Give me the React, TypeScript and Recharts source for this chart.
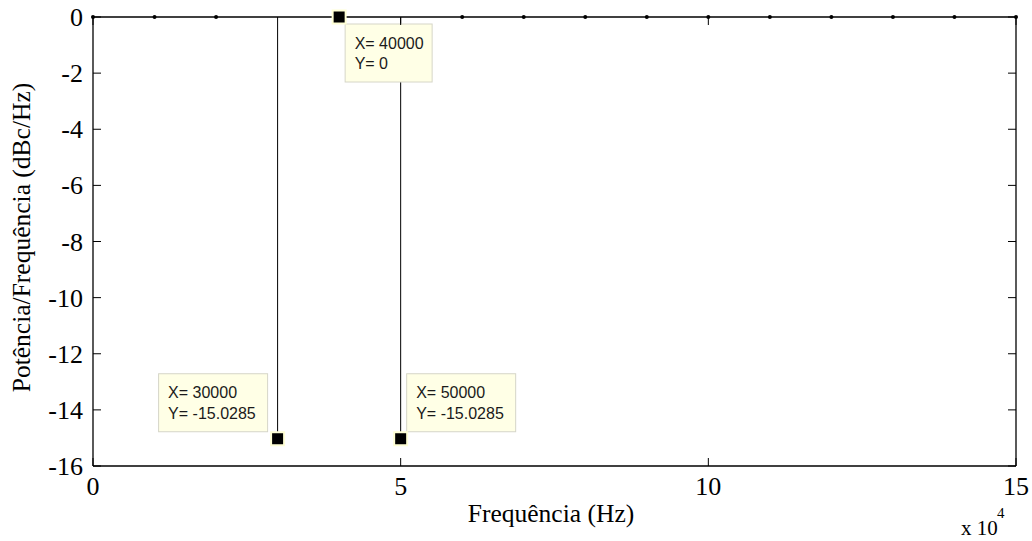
import React from 'react';
import {
  ComposedChart,
  XAxis,
  YAxis,
  Scatter,
  ReferenceLine,
  Label,
} from 'recharts';

// spectrum samples (Hz, dBc/Hz)
const FREQS = [
  0, 10000, 20000, 30000, 40000, 50000, 60000, 70000,
  80000, 90000, 100000, 110000, 120000, 130000, 140000, 150000,
];
const POWER = [0, 0, 0, -15.0285, 0, -15.0285, 0, 0, 0, 0, 0, 0, 0, 0, 0, 0];

const X_TICKS = [0, 50000, 100000, 150000];
const Y_TICKS = [-16, -14, -12, -10, -8, -6, -4, -2, 0];

// points with a data tip
const TIP_FREQS = [30000, 40000, 50000];

// where each data tip box sits relative to its point
const TIP_BOX: Record<number, { dx: number; dy: number; w: number; h: number }> = {
  30000: { dx: -119, dy: -65, w: 109, h: 58 },
  40000: { dx: 6, dy: 7, w: 87, h: 58 },
  50000: { dx: 6, dy: -65, w: 109, h: 58 },
};

const SERIF = "'Liberation Serif', 'Times New Roman', Times, serif";
const SANS = "'Liberation Sans', Arial, Helvetica, sans-serif";

const data = FREQS.map((f, i) => ({ f, p: POWER[i] }));
const tipData = TIP_FREQS.map((f) => ({ f, p: POWER[FREQS.indexOf(f)] }));
const stems = data.filter((d) => d.p !== 0);

const serifText = (size: number) => ({ fontFamily: SERIF, fontSize: size, fill: '#000' });

const renderXTick = ({ x, y, payload }: any) => (
  <g>
    <line x1={x} x2={x} y1={y} y2={y - 8} stroke="#000" />
    <text x={x} y={y + 29} textAnchor="middle" style={serifText(26)}>
      {payload.value / 10000}
    </text>
  </g>
);

const renderYTick = ({ x, y, payload }: any) => (
  <g>
    <line x1={x} x2={x + 8} y1={y} y2={y} stroke="#000" />
    <text x={x - 10} y={y + 9} textAnchor="end" style={serifText(26)}>
      {payload.value}
    </text>
  </g>
);

const renderTopTick = ({ x, y }: any) => (
  <line x1={x} x2={x} y1={y} y2={y + 8} stroke="#000" />
);
const renderRightTick = ({ x, y }: any) => (
  <line x1={x} x2={x - 8} y1={y} y2={y} stroke="#000" />
);

const XLabel = ({ viewBox }: any) => {
  const { x, y, width } = viewBox;
  return (
    <g>
      <text x={x + width / 2 - 3.5} y={y + 56} textAnchor="middle" style={serifText(25.5)}>
        Frequência (Hz)
      </text>
      <text x={x + width - 55} y={y + 69} style={serifText(21)}>
        x 10
      </text>
      <text x={x + width - 19} y={y + 52} style={serifText(15)}>
        4
      </text>
    </g>
  );
};

const YLabel = ({ viewBox }: any) => {
  const { x, y, height } = viewBox;
  const cx = x + 30;
  const cy = y + height / 2 - 4;
  return (
    <text
      x={cx}
      y={cy}
      transform={`rotate(-90 ${cx} ${cy})`}
      textAnchor="middle"
      style={serifText(25.5)}
    >
      Potência/Frequência (dBc/Hz)
    </text>
  );
};

const StemDot = (props: any) => <circle cx={props.cx} cy={props.cy} r={2} fill="#000" />;

const DataTip = (props: any) => {
  const { cx, cy, payload } = props;
  const b = TIP_BOX[payload.f];
  const bx = cx + b.dx;
  const by = cy + b.dy;
  const tipText = { fontFamily: SANS, fontSize: 16, fill: '#1a1a1a' };
  return (
    <g>
      <rect x={bx} y={by} width={b.w} height={b.h} fill="#ffffe6" stroke="#d6d6c8" strokeWidth={1} />
      <text x={bx + 9.5} y={by + 24.5} style={tipText}>
        X= {payload.f}
      </text>
      <text x={bx + 9.5} y={by + 45} style={tipText}>
        Y= {payload.p}
      </text>
      <rect x={cx - 6.5} y={cy - 6.5} width={13} height={13} fill="#000" stroke="#ffffd6" strokeWidth={2} />
    </g>
  );
};

export default function App() {
  return (
    <div style={{ position: 'absolute', left: 0, top: 0, background: '#fff' }}>
      <ComposedChart
        width={1032}
        height={541}
        data={data}
        margin={{ top: 16, right: 15, bottom: 0, left: 0 }}
      >
        <XAxis
          dataKey="f"
          type="number"
          domain={[0, 150000]}
          ticks={X_TICKS}
          interval={0}
          height={75}
          tickSize={0}
          tickMargin={0}
          tickLine={false}
          tick={renderXTick}
          axisLine={{ stroke: '#000', strokeWidth: 1.3 }}
        >
          <Label content={XLabel} />
        </XAxis>
        <XAxis
          xAxisId="top"
          orientation="top"
          dataKey="f"
          type="number"
          domain={[0, 150000]}
          ticks={X_TICKS}
          interval={0}
          height={1}
          tickSize={0}
          tickMargin={0}
          tickLine={false}
          tick={renderTopTick}
          axisLine={{ stroke: '#000', strokeWidth: 1.3 }}
        />
        <YAxis
          dataKey="p"
          type="number"
          domain={[-16, 0]}
          ticks={Y_TICKS}
          interval={0}
          width={93}
          tickSize={0}
          tickMargin={0}
          tickLine={false}
          tick={renderYTick}
          axisLine={{ stroke: '#000', strokeWidth: 1.3 }}
        >
          <Label content={YLabel} />
        </YAxis>
        <YAxis
          yAxisId="r"
          orientation="right"
          dataKey="p"
          type="number"
          domain={[-16, 0]}
          ticks={Y_TICKS}
          interval={0}
          width={1}
          tickSize={0}
          tickMargin={0}
          tickLine={false}
          tick={renderRightTick}
          axisLine={{ stroke: '#000', strokeWidth: 1.3 }}
        />
        {stems.map((d) => (
          <ReferenceLine
            key={d.f}
            segment={[
              { x: d.f, y: 0 },
              { x: d.f, y: d.p },
            ]}
            stroke="#000"
            strokeWidth={1}
          />
        ))}
        <Scatter
          data={data}
          dataKey="p"
          xAxisId="top"
          yAxisId="r"
          shape={StemDot}
          isAnimationActive={false}
        />
        <Scatter data={tipData} dataKey="p" shape={DataTip} isAnimationActive={false} />
      </ComposedChart>
    </div>
  );
}
